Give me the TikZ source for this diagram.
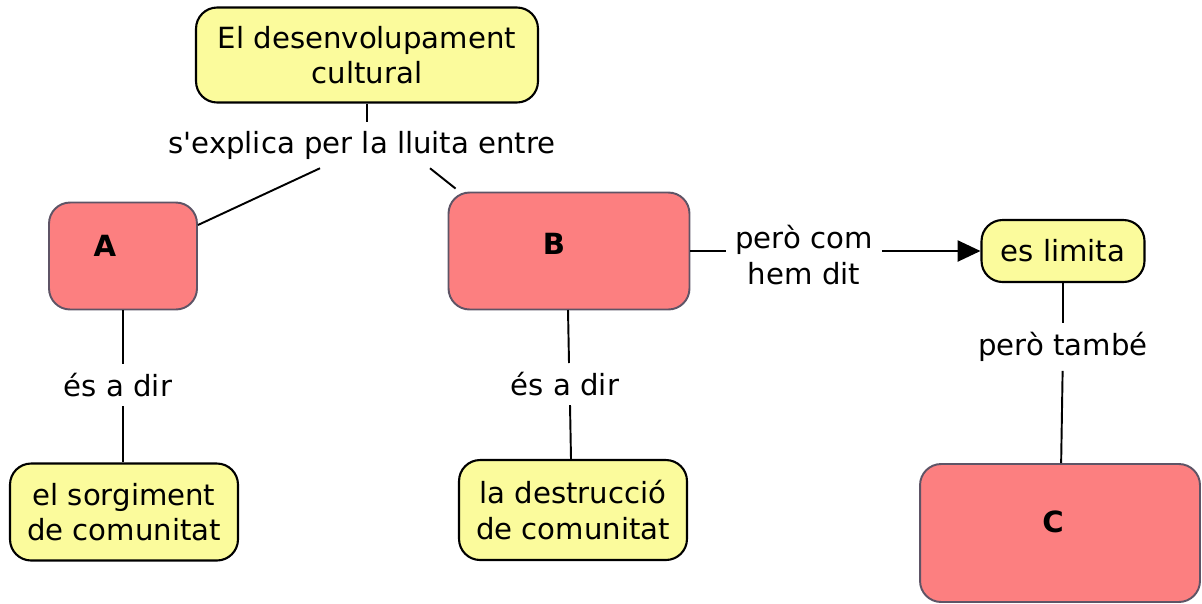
\documentclass[tikz,border=0pt]{standalone}
\usepackage{fontspec}
\setmainfont{DejaVu Sans}
\usetikzlibrary{arrows.meta}
\usetikzlibrary{calc}

\definecolor{conceptyellow}{HTML}{FBFB9C}
\definecolor{conceptred}{HTML}{FC7F80}
\definecolor{redborder}{HTML}{5E5466}

\tikzset{
  yellowbox/.style={rectangle, rounded corners=12pt, draw=black, line width=1.2pt, fill=conceptyellow, align=center, inner sep=0pt},
  redbox/.style={rectangle, rounded corners=12pt, draw=redborder, line width=1.1pt, fill=conceptred, inner sep=0pt},
  linklabel/.style={align=center, inner sep=5pt},
  boxletter/.style={font=\fontsize{16.6}{20}\selectfont\bfseries},
  link/.style={line width=1.1pt},
}

\begin{document}
\begin{tikzpicture}[x=0.02cm, y=-0.02cm, font=\fontsize{16.6}{20}\selectfont]
      \useasboundingbox (0,0) rectangle (1202,603);

      \node[yellowbox, minimum width=6.84cm, minimum height=1.9cm] (culture) at (367,55) {El desenvolupament\\cultural};
      \node[redbox, minimum width=2.96cm, minimum height=2.14cm] (A) at (123,256) {};
      \node[redbox, minimum width=4.82cm, minimum height=2.34cm] (B) at (569,251) {};
      \node[yellowbox, minimum width=3.26cm, minimum height=1.24cm] (limit) at (1063,251) {es limita};
      \node[redbox, minimum width=5.6cm, minimum height=2.76cm] (C) at (1060,533) {};
      \node[yellowbox, minimum width=4.56cm, minimum height=1.94cm] (rise) at (124,512) {el sorgiment\\de comunitat};
      \node[yellowbox, minimum width=4.56cm, minimum height=2.0cm] (ruin) at (573,510) {la destrucció\\de comunitat};

      \node[boxletter] (Atext) at (105,246) {A};
      \node[boxletter] (Btext) at (554,244) {B};
      \node[boxletter] (Ctext) at (1053,522) {C};

      \node[linklabel] (explain) at (362,145) {s\textquotesingle explica per la lluita entre};
      \node[linklabel] (howsaid) at (804,255) {però com\\hem dit};
      \node[linklabel] (alsobut) at (1063,347) {però també};
      \node[linklabel] (meansA) at (118,385) {és a dir};
      \node[linklabel] (meansB) at (565,384) {és a dir};

      \draw[link] (culture) -- (culture |- explain.north);
      \draw[link] ($(explain.south)+(-42,0)$) -- (A.north east |- 0,225);
      \draw[link] ($(explain.south)+(68,0)$) -- ($(B.north west)+(8,-3)$);
      \draw[link] (B) -- (howsaid.west |- B);
      \draw[link, -{Triangle[length=13pt, width=12pt]}] (howsaid.east |- limit) -- (limit);
      \draw[link] (limit) -- (alsobut);
      \draw[link] (alsobut) -- (C);
      \draw[link] (A) -- (meansA.north -| A);
      \draw[link] (meansA.south -| A) -- (rise.north -| A);
      \draw[link] (568,310) -- (meansB.north -| 569,0);
      \draw[link] (meansB.south -| 570,0) -- (ruin.north -| 571,0);
    \end{tikzpicture}
\end{document}
